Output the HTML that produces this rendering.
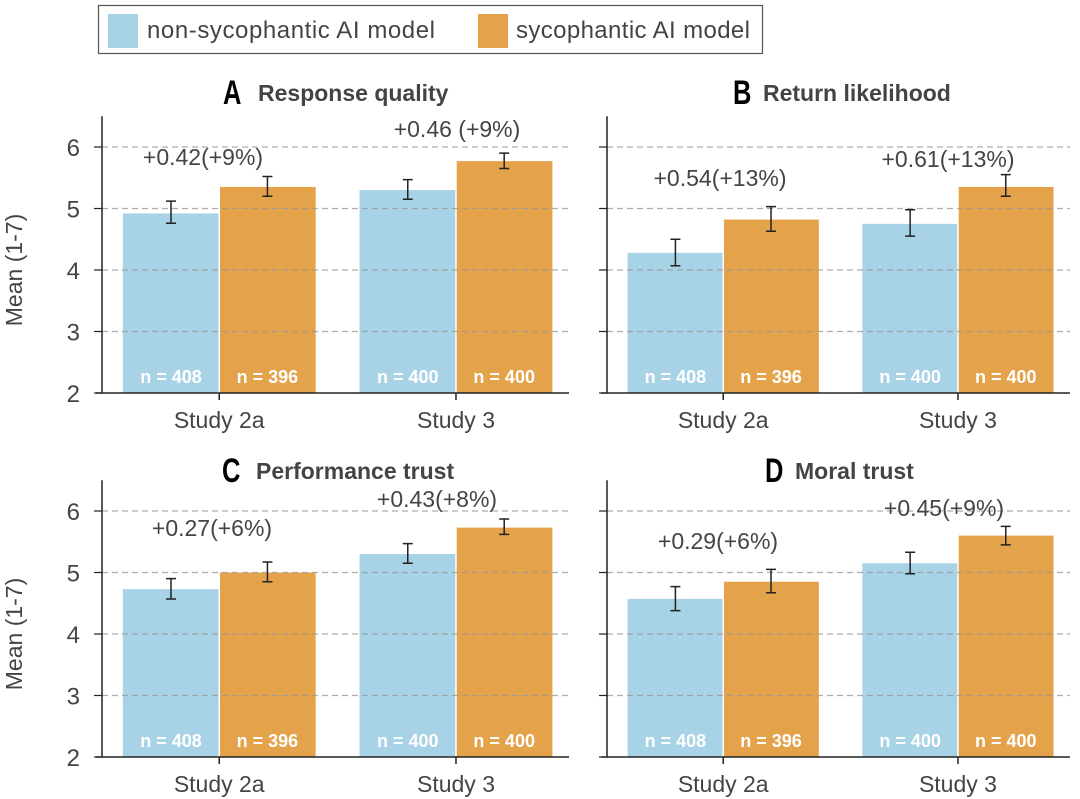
<!DOCTYPE html>
<html><head><meta charset="utf-8"><style>
body{margin:0;background:#fff}
svg{display:block;font-family:"Liberation Sans",sans-serif}
</style></head><body>
<svg id="s" width="1080" height="799" viewBox="0 0 1080 799" xmlns="http://www.w3.org/2000/svg">
<rect x="98.5" y="5.5" width="664" height="48" fill="#fff" stroke="#555" stroke-width="1.2"/>
<rect x="108" y="14" width="30" height="34" fill="#a8d3e6"/>
<text x="147" y="38" font-size="24" fill="#444" textLength="288">non-sycophantic AI model</text>
<rect x="478" y="14" width="30" height="34" fill="#e4a24a"/>
<text x="516" y="38" font-size="24" fill="#444" textLength="234">sycophantic AI model</text>
</svg>
<script>
const s=document.getElementById('s');let h='';
const P=[
 {x0:102,x1:569,yb:393,lab:true,title:['A','Response quality',223,258,92],
  v:[[4.92,4.76,5.12],[5.35,5.2,5.52],[5.3,5.15,5.47],[5.77,5.65,5.9]],
  ann:[['+0.42(+9%)',203,165],['+0.46 (+9%)',457,137]],ylab:true},
 {x0:607,x1:1070,yb:393,title:['B','Return likelihood',733,763,92],
  v:[[4.28,4.07,4.5],[4.82,4.63,5.03],[4.75,4.55,4.98],[5.35,5.2,5.55]],
  ann:[['+0.54(+13%)',720,186],['+0.61(+13%)',948,167]]},
 {x0:102,x1:569,yb:757,lab:true,title:['C','Performance trust',222,256,470],
  v:[[4.73,4.57,4.9],[5.0,4.85,5.17],[5.3,5.15,5.47],[5.73,5.62,5.87]],
  ann:[['+0.27(+6%)',212,536],['+0.43(+8%)',437,507]],ylab:true},
 {x0:607,x1:1070,yb:757,title:['D','Moral trust',765,795,470],
  v:[[4.57,4.38,4.77],[4.85,4.67,5.05],[5.15,4.98,5.33],[5.6,5.45,5.75]],
  ann:[['+0.29(+6%)',718,549],['+0.45(+9%)',944,516]]}
];
const k=61.5, ns=['n = 408','n = 396','n = 400','n = 400'];
for(const p of P){
 const Y=v=>p.yb-(v-2)*k, top=Y(6.5);
 const w=(p.x1-p.x0), bw=w*0.2065, c1=p.x0+w*0.251, c2=p.x0+w*0.758;
 const xs=[c1-bw,c1,c2-bw,c2];
 for(let i=0;i<4;i++){const [m,lo,hi]=p.v[i];
  h+=`<rect x="${xs[i]}" y="${Y(m)}" width="${bw}" height="${p.yb-Y(m)}" fill="${i%2?'#e4a24a':'#a8d3e6'}"/>`;}
 h+=`<line x1="${c1}" x2="${c1}" y1="${Y(5.5)}" y2="${p.yb}" stroke="#fff" stroke-width="1.5"/><line x1="${c2}" x2="${c2}" y1="${Y(5.9)}" y2="${p.yb}" stroke="#fff" stroke-width="1.5"/>`;
 for(let t=3;t<=6;t++) h+=`<line x1="${p.x0}" x2="${p.x1}" y1="${Y(t)}" y2="${Y(t)}" stroke="#999" stroke-width="1.2" stroke-dasharray="6,4" opacity="0.8"/>`;
 for(let i=0;i<4;i++){const [m,lo,hi]=p.v[i],cx=xs[i]+bw/2;
  h+=`<path d="M${cx} ${Y(lo)}V${Y(hi)}M${cx-5} ${Y(lo)}h10M${cx-5} ${Y(hi)}h10" stroke="#222" stroke-width="1.5" fill="none"/>`;
  h+=`<text x="${cx}" y="${p.yb-10}" font-size="18" font-weight="bold" fill="#fff" text-anchor="middle">${ns[i]}</text>`;}
 h+=`<path d="M${p.x0} ${top}V${p.yb}H${p.x1}M${p.x0-6} ${p.yb}H${p.x0}" stroke="#222" stroke-width="1.5" fill="none"/>`;
 for(let t=2;t<=6;t++){ h+=`<line x1="${p.x0-8}" x2="${p.x0}" y1="${Y(t)}" y2="${Y(t)}" stroke="#222" stroke-width="1.2"/>`;
  if(p.lab) h+=`<text x="${p.x0-22}" y="${Y(t)+9}" font-size="24" fill="#444" text-anchor="end">${t}</text>`;}
 h+=`<line x1="${c1}" x2="${c1}" y1="${p.yb}" y2="${p.yb+7}" stroke="#222" stroke-width="1.5"/><line x1="${c2}" x2="${c2}" y1="${p.yb}" y2="${p.yb+7}" stroke="#222" stroke-width="1.5"/>`;
 h+=`<text x="${c1}" y="${p.yb+35}" font-size="23" fill="#444" text-anchor="middle">Study 2a</text><text x="${c2}" y="${p.yb+35}" font-size="23" fill="#444" text-anchor="middle">Study 3</text>`;
 for(const a of p.ann) h+=`<text x="${a[1]}" y="${a[2]}" font-size="23" fill="#444" text-anchor="middle">${a[0]}</text>`;
 const t=p.title;
 h+=`<text x="${t[2]}" y="${t[4]+12}" font-size="34" font-weight="bold" fill="#000" transform="translate(${t[2]} 0) scale(0.75 1) translate(${-t[2]} 0)">${t[0]}</text>`;
 h+=`<text x="${t[3]}" y="${t[4]+9}" font-size="23" font-weight="bold" fill="#444">${t[1]}</text>`;
 if(p.ylab){const cy=Y(4);h+=`<text x="22" y="${cy}" font-size="23" fill="#444" text-anchor="middle" transform="rotate(-90 22 ${cy})">Mean (1-7)</text>`;}
}
s.insertAdjacentHTML('beforeend',h);
</script>
</body></html>
